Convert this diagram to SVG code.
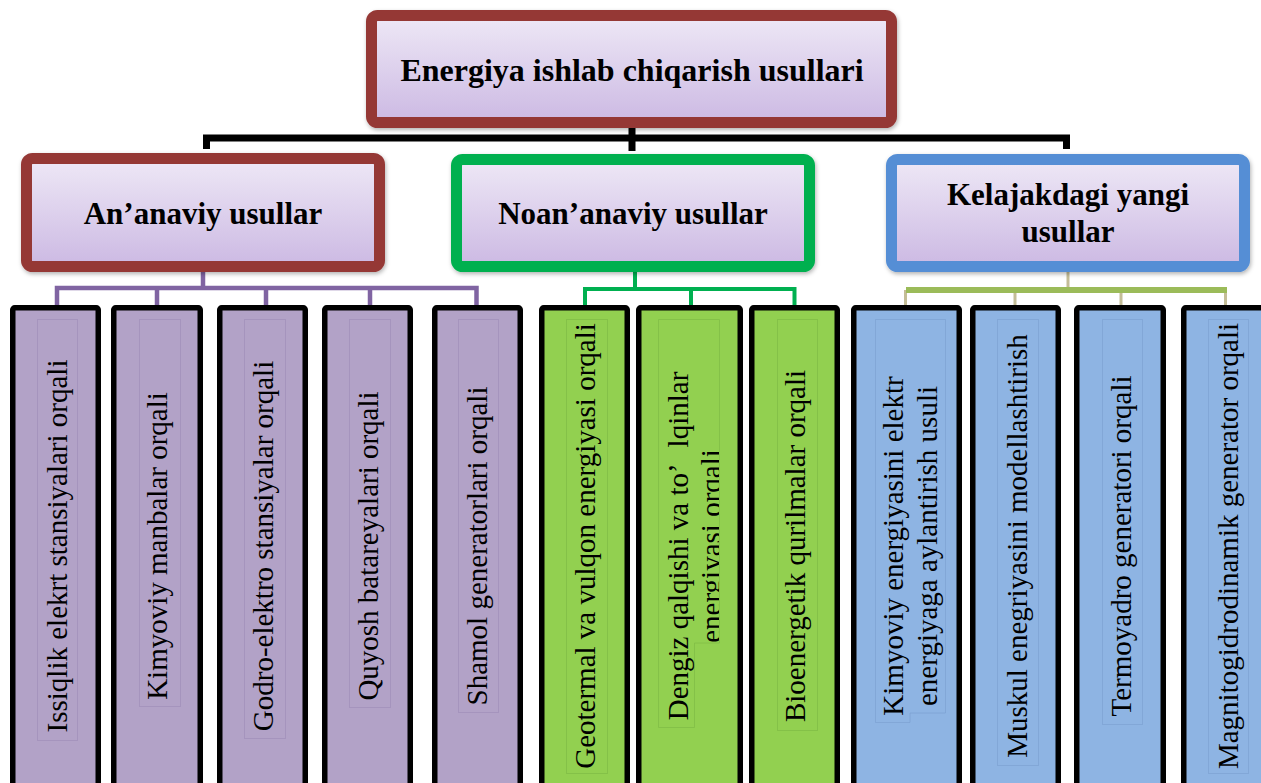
<svg xmlns="http://www.w3.org/2000/svg" width="1261" height="783" viewBox="0 0 1261 783">
<defs>
<linearGradient id="lav" x1="0" y1="0" x2="0" y2="1">
<stop offset="0" stop-color="#EEE8F6"/>
<stop offset="1" stop-color="#CCB9E3"/>
</linearGradient>
<filter id="sh" x="-5%" y="-10%" width="110%" height="125%">
<feDropShadow dx="1" dy="2" stdDeviation="2" flood-color="#000" flood-opacity="0.3"/>
</filter>
<clipPath id="clip7"><rect x="640" y="310" width="79" height="470"/></clipPath>
<style>
.head{fill:url(#lav);stroke-width:11;filter:url(#sh)}
.red{stroke:#953735}
.grn{stroke:#00B050}
.blu{stroke:#558ED5}
.ht{font-family:"Liberation Serif","Times New Roman",serif;font-weight:bold;fill:#000;text-anchor:middle}
.leaf{stroke:#000;stroke-width:5.5}
.pur{fill:#B2A2C7}
.lg{fill:#92D050}
.lb{fill:#8EB4E3}
.fr{fill:none;stroke-width:1;stroke-opacity:0.6}
.frp{stroke:#9C8BB6}
.frg{stroke:#7CB743}
.frb{stroke:#7A9FCF}
.lt{font-family:"Liberation Serif","Times New Roman",serif;font-size:29px;fill:#000;text-anchor:middle}
</style>
</defs>
<rect width="1261" height="783" fill="#fff"/>

<g id="connectors">
<path d="M206.5 149 V138 H1066.5 V149 M632 128 V151" fill="none" stroke="#000" stroke-width="7"/>
<path d="M203 272 V288 M57 305 V288 H476.5 V305 M157 288 V305 M266 288 V305 M370 288 V305" fill="none" stroke="#8064A2" stroke-width="4.5"/>
<path d="M635 272 V289 M585 305 V289 H794.5 V305 M691 289 V305" fill="none" stroke="#00B050" stroke-width="4"/>
<path d="M1068 272 V290 M905.5 290 V305 M1015 290 V305 M1121 290 V305 M1225.5 290 V305" fill="none" stroke="#C4BD97" stroke-width="3"/>
<path d="M906 290 H1227" fill="none" stroke="#9BBB59" stroke-width="6"/>
</g>

<g id="root">
<rect class="head red" x="371.5" y="15.5" width="520" height="107" rx="6"/>
<text class="ht" x="632" y="81" font-size="32">Energiya ishlab chiqarish usullari</text>
</g>

<g id="ananaviy">
<rect class="head red" x="26.5" y="158.5" width="353" height="108" rx="6"/>
<text class="ht" x="203" y="224" font-size="31">An’anaviy usullar</text>
</g>
<g id="noananaviy">
<rect class="head grn" x="456.5" y="159.5" width="353" height="107" rx="6"/>
<text class="ht" x="633" y="224" font-size="31">Noan’anaviy usullar</text>
</g>
<g id="kelajak">
<rect class="head blu" x="891.5" y="159.5" width="353" height="107" rx="6"/>
<text class="ht" x="1068" y="205" font-size="31">Kelajakdagi yangi</text>
<text class="ht" x="1068" y="242" font-size="31">usullar</text>
</g>

<g id="leaf1">
<rect class="leaf pur" x="12.75" y="307.75" width="85.5" height="500" rx="2"/>
<rect class="fr frp" x="37.5" y="319.5" width="40" height="421"/>
<text class="lt" transform="translate(67,546) rotate(-90)">Issiqlik elekrt stansiyalari orqali</text>
</g>
<g id="leaf2">
<rect class="leaf pur" x="113.75" y="307.75" width="86.5" height="500" rx="2"/>
<rect class="fr frp" x="139.5" y="319.5" width="41" height="387"/>
<text class="lt" transform="translate(167,546) rotate(-90)">Kimyoviy manbalar orqali</text>
</g>
<g id="leaf3">
<rect class="leaf pur" x="219.75" y="307.75" width="85.5" height="500" rx="2"/>
<rect class="fr frp" x="244.5" y="319.5" width="41" height="419"/>
<text class="lt" transform="translate(273,546) rotate(-90)">Godro-elektro stansiyalar orqali</text>
</g>
<g id="leaf4">
<rect class="leaf pur" x="324.75" y="307.75" width="85.5" height="500" rx="2"/>
<rect class="fr frp" x="349.5" y="319.5" width="41" height="388"/>
<text class="lt" transform="translate(378,546) rotate(-90)">Quyosh batareyalari orqali</text>
</g>
<g id="leaf5">
<rect class="leaf pur" x="434.75" y="307.75" width="85.5" height="500" rx="2"/>
<rect class="fr frp" x="458.5" y="319.5" width="40" height="393"/>
<text class="lt" transform="translate(487,546) rotate(-90)">Shamol generatorlari orqali</text>
</g>
<g id="leaf6">
<rect class="leaf lg" x="541.75" y="307.75" width="85.5" height="500" rx="2"/>
<rect class="fr frg" x="566.5" y="319.5" width="41" height="454"/>
<text class="lt" transform="translate(595,546) rotate(-90)">Geotermal va vulqon energiyasi orqali</text>
</g>
<g id="leaf7">
<rect class="leaf lg" x="638.75" y="307.75" width="101.5" height="500" rx="2"/>
<path class="fr frg" d="M658.5 319.5 H719.5 V643 H694.5 V727.5 H658.5 Z"/>
<text class="lt" transform="translate(688,546) rotate(-90)">Dengiz qalqishi va to’<tspan dx="16">lqinlar</tspan></text>
<g clip-path="url(#clip7)">
<text class="lt" transform="translate(721,546) rotate(-90)">energiyasi orqali</text>
</g>
</g>
<g id="leaf8">
<rect class="leaf lg" x="751.75" y="307.75" width="85.5" height="500" rx="2"/>
<rect class="fr frg" x="777.5" y="319.5" width="40" height="411"/>
<text class="lt" transform="translate(805,546) rotate(-90)">Bioenergetik qurilmalar orqali</text>
</g>
<g id="leaf9">
<rect class="leaf lb" x="853.75" y="307.75" width="105.5" height="500" rx="2"/>
<path class="fr frb" d="M875.5 319.5 H945.5 V713 H910 V722.5 H875.5 Z"/>
<text class="lt" transform="translate(903,546) rotate(-90)">Kimyoviy energiyasini elektr</text>
<text class="lt" transform="translate(937,546) rotate(-90)">energiyaga aylantirish usuli</text>
</g>
<g id="leaf10">
<rect class="leaf lb" x="972.75" y="307.75" width="85.5" height="500" rx="2"/>
<rect class="fr frb" x="997.5" y="319.5" width="41" height="446"/>
<text class="lt" transform="translate(1027,546) rotate(-90)">Muskul enegriyasini modellashtirish</text>
</g>
<g id="leaf11">
<rect class="leaf lb" x="1076.75" y="307.75" width="86.5" height="500" rx="2"/>
<rect class="fr frb" x="1102.5" y="319.5" width="40" height="405"/>
<text class="lt" transform="translate(1131,546) rotate(-90)">Termoyadro generatori orqali</text>
</g>
<g id="leaf12">
<rect class="leaf lb" x="1183.75" y="307.75" width="90" height="500" rx="2"/>
<rect class="fr frb" x="1208.5" y="319.5" width="40" height="454"/>
<text class="lt" transform="translate(1238,546) rotate(-90)">Magnitogidrodinamik generator orqali</text>
</g>
</svg>
